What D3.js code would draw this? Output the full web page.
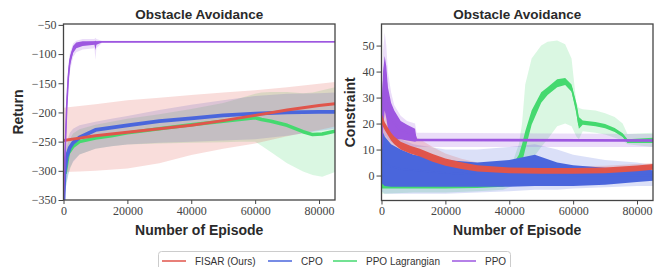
<!DOCTYPE html>
<html>
<head>
<meta charset="utf-8">
<script src="https://cdn.jsdelivr.net/npm/d3@7"></script>
<style>
  body { margin: 0; background: #fff; }
  svg { display: block; }
</style>
</head>
<body>
<svg id="chart" width="659" height="267"></svg>
<script>
// series names / colours (legend order)
const seriesNames = ['FISAR (Ours)', 'CPO', 'PPO Lagrangian', 'PPO'];
const seriesColors = ['#e0554b', '#4a66dc', '#45d96f', '#9d57e0'];

const xTicks = [0, 20000, 40000, 60000, 80000];
const returnTicks = [-350, -300, -250, -200, -150, -100, -50];
const constraintTicks = [0, 10, 20, 30, 40, 50];

// Return panel: [episode, mean, bandLo, bandHi, (noiseLo, noiseHi)]
const retFisar = [
  [0, -248, -302, -192], [5000, -244, -301, -189], [10000, -240, -300, -186],
  [20000, -234, -296, -179], [30000, -228, -287, -175], [40000, -222, -273, -170],
  [50000, -214, -262, -166], [60000, -205, -253, -162], [70000, -196, -241, -157],
  [80000, -188, -230, -151], [85000, -185, -224, -148],
];
const retCpo = [
  [0, -350, -352, -300], [300, -305, -345, -280], [1000, -276, -320, -250],
  [2000, -260, -295, -235], [3000, -252, -285, -228], [5000, -243, -272, -222],
  [10000, -230, -262, -216], [15000, -226, -258, -211], [20000, -222, -255, -206],
  [30000, -215, -252, -196], [40000, -210, -250, -187], [50000, -205, -248, -179],
  [60000, -202, -246, -172], [70000, -200, -240, -168], [80000, -199, -232, -167],
  [85000, -199, -228, -166],
];
const retLag = [
  [500, -305, -335, -270], [1500, -270, -305, -250], [3000, -258, -283, -236],
  [5000, -250, -272, -229], [10000, -244, -262, -221], [15000, -240, -258, -216],
  [20000, -235, -255, -211], [30000, -228, -253, -203], [40000, -221, -252, -194],
  [50000, -215, -251, -184], [55000, -212, -250, -176], [60000, -209, -250, -168],
  [62000, -212, -257, -166], [65000, -215, -268, -165], [70000, -222, -287, -165],
  [75000, -233, -301, -167], [78000, -238, -307, -166], [81000, -237, -310, -162],
  [85000, -232, -302, -157],
];
const retPpo = [
  [0, -350, -352, -330, -352, -345], [500, -270, -300, -240, -285, -255],
  [1000, -190, -220, -165, -205, -175], [1500, -140, -165, -120, -152, -128],
  [2000, -112, -130, -98, -120, -104], [3000, -92, -105, -82, -98, -86],
  [4000, -85, -97, -77, -90, -80], [6000, -81, -92, -74, -86, -78],
  [9700, -80, -90, -74, -84, -78], [10000, -80, -110, -72, -93, -77],
  [10300, -80, -90, -74, -84, -78], [12000, -79, -81, -77, -80, -78],
  [85000, -79, -80.5, -77.5, -79.8, -78.2],
];

// Constraint panel: [episode, mean, bandLo, bandHi, noiseLo, noiseHi]
const conFisar = [
  [0, 22, 16, 28, 20, 24], [1000, 19, 13, 26, 17.5, 20.5], [2000, 17, 11, 24, 15.5, 18.5],
  [3000, 15, 10, 22, 13.5, 16.5], [4000, 13.5, 9, 20, 12, 15], [6000, 11.5, 8, 18, 10, 13],
  [9000, 10, 6.5, 16, 8.5, 11.5], [12000, 8.8, 5.5, 14, 7.3, 10.3], [16000, 6.8, 4, 11, 5.3, 8.3],
  [20000, 5.2, 3, 8.5, 3.8, 6.6], [25000, 3.8, 2, 6.5, 2.5, 5.1], [30000, 2.8, 1.2, 5, 1.6, 4],
  [40000, 2, 0.8, 4, 0.9, 3.1], [50000, 1.8, 0.6, 3.6, 0.7, 2.9], [60000, 1.8, 0.6, 3.6, 0.7, 2.9],
  [70000, 2, 0.8, 3.8, 0.9, 3.1], [80000, 2.8, 1.5, 4.4, 1.7, 3.9], [85000, 3.3, 2, 4.8, 2.2, 4.4],
];
const conCpo = [
  [0, 10, -6, 26, -3, 18], [1000, 5, -7, 20, -4, 15], [3000, 3.5, -7, 16, -4.3, 12],
  [6000, 2.5, -7, 14, -4.3, 10], [10000, 2, -7, 12, -4.3, 8], [20000, 1, -7, 10, -4.3, 6],
  [30000, 0.5, -6.5, 10, -4.3, 5], [40000, 0.5, -6, 11, -4.3, 6], [48000, 0.5, -5.5, 12, -4, 8],
  [55000, 0.3, -5.5, 10, -4, 5], [60000, 0, -5, 8, -4, 4], [70000, 0, -4.5, 6, -3.5, 3],
  [80000, 0, -4, 5, -2.5, 2.5], [85000, 0, -4, 4, -2, 2],
];
const conLag = [
  [0, 2, -7, 12, -5, 6], [1000, -3, -7, 2, -5, -2], [10000, -3.6, -6.5, 0, -5, -2.5],
  [20000, -3.6, -6.5, 0, -5, -2.5], [30000, -3.3, -6, 1, -4.8, -2], [38000, -2, -5.5, 3, -4.3, 1],
  [41000, 0, -4, 5, -3, 4], [43000, 5, -2, 12, 1, 8], [44000, 9, 0, 20, 5, 12],
  [45000, 14, 3, 35, 10, 17], [47000, 22.5, 6, 45, 19.5, 25], [50000, 30, 11, 50, 28, 32],
  [52000, 32.5, 14, 51.5, 31, 34], [55000, 35.5, 19, 52, 34, 37], [57500, 36.2, 20, 50.5, 34.8, 37.5],
  [59500, 33.6, 19, 45, 32.2, 35], [61000, 26, 15, 28, 24, 28], [61800, 19.5, 14, 26, 18, 22.5],
  [63000, 20.3, 17, 25.5, 19.5, 21.2], [67000, 19.8, 16.5, 25, 19, 20.6], [70000, 19, 15.8, 24, 18.2, 19.8],
  [73000, 17.5, 14.5, 22.5, 16.8, 18.3], [75500, 15.5, 13.5, 20, 14.8, 16.3], [77000, 13.2, 12, 16, 12.5, 14],
  [85000, 13.3, 11, 16.5, 12.5, 14.5],
];
const conPpo = [
  [0, 15, 5, 25, 5, 22], [500, 33, 10, 48, 18, 40], [1000, 42, 15, 55, 25, 46],
  [1500, 36, 15, 50, 22, 42], [2000, 28, 14, 40, 18, 34], [3000, 22, 13, 32, 15, 28],
  [4000, 20, 12, 27, 14, 25], [6000, 17.5, 12, 23, 14, 21], [8000, 16.5, 11.5, 21, 13.5, 19.5],
  [10500, 15.5, 11, 20, 13, 18], [11000, 13.7, 11, 16.5, 13.2, 14.2], [85000, 13.5, 11, 16, 13, 14],
];

const svg = d3.select('#chart');
const fmtTick = (d) => (d < 0 ? '\u2212' + Math.abs(d) : String(d));

function drawPanel(opts) {
  const { left, right, top, bottom, yDomain, yTicks, title, yLabel, series, id } = opts;
  const x = d3.scaleLinear().domain([0, 85000]).range([left, right]);
  const y = d3.scaleLinear().domain(yDomain).range([bottom, top]);
  const g = svg.append('g');

  svg.append('clipPath').attr('id', id)
    .append('rect').attr('x', left).attr('y', top)
    .attr('width', right - left).attr('height', bottom - top);
  const plot = g.append('g').attr('clip-path', `url(#${id})`);

  const band = d3.area().x((d) => x(d[0])).y0((d) => y(d[2])).y1((d) => y(d[3]));
  const noise = d3.area().x((d) => x(d[0])).y0((d) => y(d[4])).y1((d) => y(d[5]));
  const line = d3.line().x((d) => x(d[0])).y((d) => y(d[1]));

  series.forEach((s) => {
    plot.append('path').attr('d', band(s.data))
      .attr('fill', seriesColors[s.idx]).attr('fill-opacity', 0.2);
  });
  series.forEach((s) => {
    if (s.data[0].length > 4) {
      plot.append('path').attr('d', noise(s.data))
        .attr('fill', seriesColors[s.idx]);
    }
    plot.append('path').attr('d', line(s.data))
      .attr('fill', 'none').attr('stroke', seriesColors[s.idx])
      .attr('stroke-width', s.width).attr('stroke-linejoin', 'round');
  });

  const xAxis = g.append('g').attr('transform', `translate(0,${bottom})`)
    .call(d3.axisBottom(x).tickValues(xTicks).tickFormat(d3.format('d')).tickSize(4).tickPadding(2));
  const yAxis = g.append('g').attr('transform', `translate(${left},0)`)
    .call(d3.axisLeft(y).tickValues(yTicks).tickFormat(fmtTick).tickSize(5).tickPadding(2));
  [xAxis, yAxis].forEach((a) => {
    a.select('.domain').remove();
    a.selectAll('line').attr('stroke', '#444').attr('stroke-width', 1);
    a.selectAll('text').attr('font-family', 'Liberation Serif, serif')
      .attr('font-size', 12).attr('fill', '#444');
  });

  g.append('rect').attr('x', left).attr('y', top)
    .attr('width', right - left).attr('height', bottom - top)
    .attr('fill', 'none').attr('stroke', '#444').attr('stroke-width', 1.3);

  g.append('text').attr('x', (left + right) / 2).attr('y', 19)
    .attr('text-anchor', 'middle').attr('font-family', 'Liberation Sans, Arial, sans-serif')
    .attr('font-weight', 'bold').attr('font-size', 13.5).attr('fill', '#2a2a2a')
    .text(title);

  g.append('text').attr('x', (left + right) / 2).attr('y', 235)
    .attr('text-anchor', 'middle').attr('font-family', 'Liberation Sans, Arial, sans-serif')
    .attr('font-weight', 'bold').attr('font-size', 14).attr('fill', '#2a2a2a')
    .text('Number of Episode');

  g.append('text')
    .attr('transform', `translate(${opts.yLabelX},${(top + bottom) / 2}) rotate(-90)`)
    .attr('text-anchor', 'middle').attr('font-family', 'Liberation Sans, Arial, sans-serif')
    .attr('font-weight', 'bold').attr('font-size', 14).attr('fill', '#2a2a2a')
    .text(yLabel);
}

drawPanel({
  id: 'clipL', left: 63.5, right: 335, top: 24, bottom: 200,
  yDomain: [-350, -48.5], yTicks: returnTicks,
  title: 'Obstacle Avoidance', yLabel: 'Return', yLabelX: 23,
  series: [
    { idx: 2, data: retLag, width: 3.5 },
    { idx: 1, data: retCpo, width: 3.8 },
    { idx: 0, data: retFisar, width: 3 },
    { idx: 3, data: retPpo, width: 1.6 },
  ],
});

drawPanel({
  id: 'clipR', left: 381.5, right: 653, top: 24, bottom: 200.5,
  yDomain: [-9.6, 58.3], yTicks: constraintTicks,
  title: 'Obstacle Avoidance', yLabel: 'Constraint', yLabelX: 355,
  series: [
    { idx: 2, data: conLag, width: 1.5 },
    { idx: 1, data: conCpo, width: 1.5 },
    { idx: 3, data: conPpo, width: 1.5 },
    { idx: 0, data: conFisar, width: 1.5 },
  ],
});

// legend
const legend = svg.append('g');
legend.append('rect').attr('x', 158.5).attr('y', 251.5).attr('width', 352).attr('height', 22)
  .attr('rx', 3).attr('fill', '#fff').attr('stroke', '#ccc').attr('stroke-width', 1);
const legendX = [162, 268, 333, 452];
seriesNames.forEach((name, i) => {
  legend.append('line').attr('x1', legendX[i]).attr('x2', legendX[i] + 24)
    .attr('y1', 261).attr('y2', 261)
    .attr('stroke', seriesColors[i]).attr('stroke-width', 1.5);
  legend.append('text').attr('x', legendX[i] + 33).attr('y', 265)
    .attr('font-family', 'Liberation Sans, Arial, sans-serif').attr('font-size', 10)
    .attr('fill', '#333').text(name);
});
</script>
</body>
</html>
